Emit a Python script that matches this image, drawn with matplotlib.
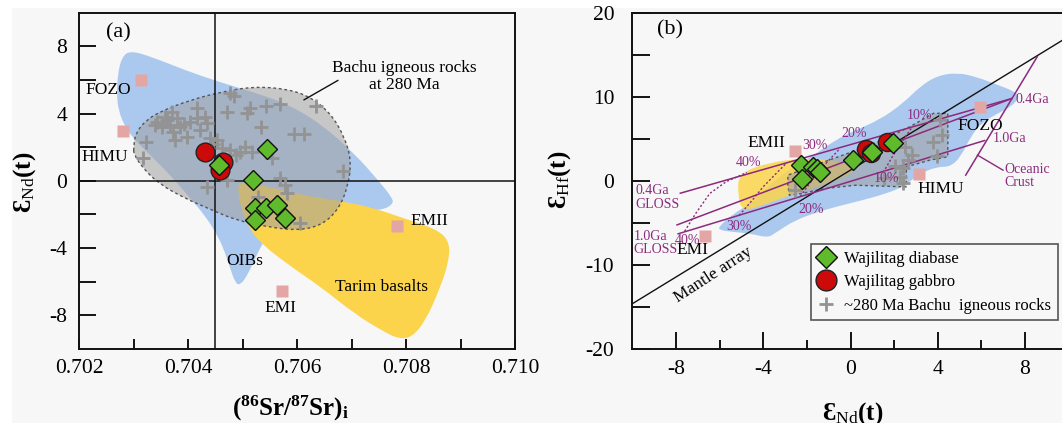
import numpy as np
import matplotlib
matplotlib.use("Agg")
import matplotlib.pyplot as plt
from matplotlib.path import Path
from matplotlib.patches import PathPatch, Polygon, Rectangle
from matplotlib.lines import Line2D

plt.rcParams['font.family'] = ['Liberation Serif', 'DejaVu Serif']
plt.rcParams['mathtext.fontset'] = 'custom'
plt.rcParams['mathtext.rm'] = 'Liberation Serif'
plt.rcParams['mathtext.bf'] = 'Liberation Serif:bold'
plt.rcParams['mathtext.it'] = 'Liberation Serif:italic'

# ---------------- data: panel (a) ----------------
oib_a_x = [0.702941, 0.703344, 0.703963, 0.704582, 0.705201, 0.705820, 0.706440, 0.707059, 0.707492,
           0.707740, 0.707771, 0.707554, 0.707059, 0.706440, 0.705820, 0.705511, 0.705263, 0.705108,
           0.704954, 0.704861, 0.704768, 0.704644, 0.704520, 0.704334, 0.704025, 0.703653, 0.703282,
           0.703034, 0.702848, 0.702724, 0.702693, 0.702712, 0.702786]
oib_a_y = [7.75, 7.36, 6.56, 5.87, 5.27, 4.58, 3.39, 1.61, 0.02, -0.97, -1.37, -1.76, -1.76, -1.76,
           -2.16, -2.95, -4.34, -5.53, -6.23, -6.03, -5.13, -3.95, -3.15, -2.16, -0.97, 0.42, 1.61,
           2.40, 3.19, 4.18, 5.17, 6.36, 7.36]
tarim_a_x = [0.704923, 0.705511, 0.706130, 0.706749, 0.707368, 0.707988, 0.708545, 0.708793, 0.708793,
             0.708607, 0.708359, 0.708111, 0.707864, 0.707554, 0.707059, 0.706440, 0.705820, 0.705387,
             0.705139, 0.704985, 0.704923]
tarim_a_y = [0.02, -0.38, -0.87, -1.17, -1.57, -2.26, -2.85, -3.55, -4.74, -6.52, -8.31, -9.30, -9.40,
             -8.90, -7.91, -6.32, -4.94, -3.85, -2.95, -1.76, -0.77]
bachu_field_a_x = [0.703003, 0.703034, 0.703220, 0.703529, 0.704025, 0.704582, 0.705201, 0.705820,
                   0.706254, 0.706625, 0.706873, 0.706997, 0.706935, 0.706749, 0.706440, 0.706006,
                   0.705511, 0.704892, 0.704396, 0.703963, 0.703467, 0.703158, 0.703003]
bachu_field_a_y = [2.00, 2.80, 3.59, 4.18, 4.78, 5.27, 5.61, 5.47, 4.98, 3.98, 2.60, 1.21, -0.38, -1.76,
                   -2.66, -2.95, -2.76, -2.36, -1.67, -1.07, -0.18, 0.81, 1.61]

bachu_a_x = [0.70477, 0.70485, 0.70417, 0.70471, 0.70514, 0.70508, 0.70544, 0.70568, 0.70635, 0.70534,
             0.70594, 0.70612, 0.70323, 0.70318, 0.70370, 0.70358, 0.70379, 0.70367, 0.70385, 0.70343,
             0.70352, 0.70373, 0.70376, 0.70398, 0.70404, 0.70416, 0.70431, 0.70434, 0.70422, 0.70440,
             0.70453, 0.70462, 0.70477, 0.70495, 0.70505, 0.70517, 0.70554, 0.70434, 0.70471, 0.70569,
             0.70578, 0.70581, 0.70529, 0.70606, 0.70684, 0.70340, 0.70362, 0.70392, 0.70446, 0.70488]
bachu_a_y = [5.25, 5.05, 4.35, 4.11, 4.31, 4.01, 4.47, 4.55, 4.47, 3.18, 2.79, 2.79, 2.33, 1.38, 4.11,
             3.82, 3.72, 3.32, 3.22, 3.52, 3.22, 2.92, 2.43, 2.63, 3.52, 3.72, 3.82, 3.42, 3.02, 2.53,
             2.43, 1.93, 1.83, 1.73, 1.99, 1.73, 1.34, -0.35, 0.05, 0.15, -0.25, -0.74, -0.94, -2.53,
             0.60, 3.35, 3.60, 3.40, 2.20, 1.55]

diabase_a_x = [0.70457, 0.70545, 0.70519, 0.70523, 0.70544, 0.70563, 0.70523, 0.70578]
diabase_a_y = [0.97, 1.90, 0.08, -1.61, -1.60, -1.41, -2.32, -2.20]
gabbro_a_x = [0.70431, 0.70465, 0.70459]
gabbro_a_y = [1.73, 1.10, 0.62]

end_names = ['FOZO', 'HIMU', 'EMII', 'EMI']
end_a_x = [0.70313, 0.70280, 0.70783, 0.70572]
end_a_y = [6.0, 2.94, -2.66, -6.53]

# ---------------- data: panel (b) ----------------
oib_b_x = [-6.06, -5.36, -4.58, -3.80, -2.87, -1.79, -0.70, 0.23, 1.32, 2.41, 3.18, 3.96, 4.89, 5.82,
           6.75, 7.53, 7.76, 7.38, 6.75, 5.98, 5.51, 5.05, 4.58, 3.96, 3.18, 2.41, 1.63, 0.54, -0.70,
           -1.48, -2.56, -3.49, -3.80, -4.58, -5.36, -5.98]
oib_b_y = [-5.49, -3.90, -2.70, -0.72, 1.27, 2.86, 4.85, 6.04, 7.24, 9.22, 11.21, 12.49, 12.88, 12.33,
           11.41, 10.62, 10.02, 8.83, 8.03, 6.84, 5.25, 2.86, 1.67, 1.67, 0.87, -0.72, -1.51, -2.31,
           -3.10, -3.70, -4.69, -6.28, -6.76, -6.28, -6.08, -5.88]
tarim_b_x = [-5.12, -3.80, -2.25, -1.01, -0.23, 0.31, -0.23, -1.32, -2.56, -3.80, -4.97, -5.17]
tarim_b_y = [0.87, 2.15, 2.66, 2.54, 2.07, 1.47, 0.48, -0.52, -1.51, -2.70, -3.70, -1.51]
bachu_field_b_x = [-2.87, -2.87, -1.63, 0.08, 1.48, 2.72, 3.80, 4.46, 4.46, 3.65, 2.56, 2.56, 1.63,
                   0.23, -1.16, -2.25, -2.80]
bachu_field_b_y = [-0.52, 0.68, 1.87, 3.46, 4.85, 6.44, 8.03, 8.03, 2.86, 2.47, 1.67, -0.72, -0.64,
                   -0.52, -0.91, -1.51, -1.71]

bachu_b_x = [4.11, 4.19, 3.76, 3.96, 2.48, 2.80, 2.64, 2.02, 2.41, 1.55, 2.25, 2.41, -2.56]
bachu_b_y = [7.24, 5.45, 4.65, 2.94, 4.06, 3.06, 2.47, 1.79, 1.47, 0.28, 0.48, -0.24, -1.03]

diabase_b_x = [-2.25, -2.20, -1.70, -1.55, -1.40, 0.12, 1.00, 1.95]
diabase_b_y = [1.90, 0.25, 1.60, 1.35, 1.00, 2.50, 3.45, 4.50]
gabbro_b_x = [0.70, 0.95, 1.65]
gabbro_b_y = [3.80, 3.35, 4.60]

end_b_x = [5.95, 3.15, -2.56, -6.65]
end_b_y = [8.83, 0.87, 3.58, -6.60]

mantle_slope, mantle_icpt = 1.59, 1.28

gloss04_line_x = [-7.80, 7.40]; gloss04_line_y = [-1.47, 9.80]
mid_line_x = [-7.95, 7.40];     mid_line_y = [-5.24, 9.80]
gloss10_line_x = [-7.90, 6.15]; gloss10_line_y = [-6.30, 4.80]
ocean_x = [5.28, 8.56];         ocean_y = [0.68, 14.77]

mix40_x = [-7.6, -7.1, -6.45, -5.7, -4.75]; mix40_y = [-6.0, -3.9, -1.5, -0.1, 1.0]
mix30_x = [-5.1, -4.5, -4.0, -3.4, -2.9];   mix30_y = [-4.1, -2.3, -0.7, 0.9, 2.2]
mix20_x = [-2.3, -1.9, -1.4, -0.9, -0.5];   mix20_y = [-1.85, -0.4, 1.3, 2.7, 3.8]
mix10_x = [1.5, 1.9, 2.3, 2.8];             mix10_y = [1.0, 2.8, 4.4, 6.3]

pct_labels = ['10%', '20%', '30%', '40%', '10%', '20%', '30%', '40%']
pct_x = [3.18, 0.16, -1.63, -4.66, 1.63, -1.82, -5.12, -7.45]
pct_y = [7.83, 5.65, 4.25, 2.19, 0.28, -3.42, -5.41, -7.08]

legend_labels = ['Wajilitag diabase', 'Wajilitag gabbro', '~280 Ma Bachu  igneous rocks']

# ---------------- styles ----------------
BG = '#f7f7f7'
BLUE = '#abc9ee'
YELLOW = '#fbd44c'
GRAYF = '#a0a0a0'
GREEN = '#5fba2c'
RED = '#cc0a0a'
PINK = '#e4a6a4'
CROSS = '#939393'
PURPLE = '#8c2a7e'


def smooth_path(xs, ys):
    pts = np.column_stack([xs, ys])
    n = len(pts)
    mids = (pts + np.roll(pts, -1, axis=0)) / 2.0
    verts = [mids[-1]]
    codes = [Path.MOVETO]
    for i in range(n):
        verts += [pts[i], mids[i]]
        codes += [Path.CURVE3, Path.CURVE3]
    verts.append(mids[-1])
    codes.append(Path.CLOSEPOLY)
    return Path(verts, codes)


fig = plt.figure(figsize=(10.62, 4.23), dpi=100)
fig.patch.set_facecolor('white')
fig.patches.append(Rectangle((12 / 1062, 0), 1, 1 - 8 / 423, transform=fig.transFigure,
                             facecolor=BG, edgecolor='none', zorder=-10))

W, H = 1062.0, 423.0
axA = fig.add_axes([79 / W, 1 - 349 / H, 436 / W, 336.3 / H])
axB = fig.add_axes([632.3 / W, 1 - 349 / H, 436.4 / W, 336.3 / H])
for ax in (axA, axB):
    ax.set_facecolor('none')
    for s in ax.spines.values():
        s.set_linewidth(1.4)
        s.set_color('#111111')

TICKFS = 15.5
ANN = 12.5

# ---------------- panel (a) ----------------
ax = axA
ax.set_xlim(0.702, 0.710)
ax.set_ylim(-10, 10)
ax.add_patch(PathPatch(smooth_path(oib_a_x, oib_a_y), facecolor=BLUE, edgecolor='none', zorder=1))
ax.add_patch(PathPatch(smooth_path(tarim_a_x, tarim_a_y), facecolor=YELLOW, edgecolor='none', zorder=2))
ax.add_patch(PathPatch(smooth_path(bachu_field_a_x, bachu_field_a_y), facecolor=GRAYF, alpha=0.55,
                       edgecolor='none', zorder=3))
ax.add_patch(PathPatch(smooth_path(bachu_field_a_x, bachu_field_a_y), facecolor='none',
                       edgecolor='#555555', linestyle=(0, (2, 2)), linewidth=1.0, zorder=3.5))
ax.axvline(0.7045, color='#111111', lw=1.1, zorder=4)
ax.axhline(0, color='#111111', lw=1.1, zorder=4)
ax.plot(end_a_x, end_a_y, 's', ms=9, color=PINK, mec='none', zorder=5)
ax.plot(bachu_a_x, bachu_a_y, '+', ms=10, mew=2.0, color=CROSS, zorder=6)
ax.plot(gabbro_a_x, gabbro_a_y, 'o', ms=13.5, color=RED, mec='#222222', mew=1.0, zorder=7)
ax.plot(diabase_a_x, diabase_a_y, 'D', ms=10, color=GREEN, mec='#111111', mew=1.0, zorder=8)

ax.text(0.702539, 5.41, 'FOZO', fontsize=ANN, ha='center', va='center', zorder=9)
ax.text(0.702464, 1.41, 'HIMU', fontsize=ANN, ha='center', va='center', zorder=9)
ax.text(0.70808, -2.36, 'EMII', fontsize=ANN, ha='left', va='center', zorder=9)
ax.text(0.705697, -7.55, 'EMI', fontsize=ANN, ha='center', va='center', zorder=9)
ax.text(0.705046, -4.74, 'OIBs', fontsize=ANN, ha='center', va='center', zorder=9)
ax.text(0.707554, -6.32, 'Tarim basalts', fontsize=ANN, ha='center', va='center', zorder=9)
ax.text(0.707975, 6.21, 'Bachu igneous rocks\nat 280 Ma', fontsize=ANN, ha='center', va='center',
        linespacing=1.05, zorder=9)
ax.plot([0.706749, 0.706130], [5.97, 4.82], color='#111111', lw=1.0, zorder=9)
ax.text(0.702724, 8.78, '(a)', fontsize=16, ha='center', va='center', zorder=9)

ax.set_xticks([0.702, 0.703, 0.704, 0.705, 0.706, 0.707, 0.708, 0.709, 0.710])
ax.set_xticklabels(['0.702', '', '0.704', '', '0.706', '', '0.708', '', '0.710'])
ax.set_yticks([-8, -6, -4, -2, 0, 2, 4, 6, 8])
ax.set_yticklabels(['-8', '', '-4', '', '0', '', '4', '', '8'])
ax.tick_params(axis='x', direction='in', length=7, width=1.3, pad=7, labelsize=TICKFS)
ax.tick_params(axis='y', direction='in', length=12, width=1.3, pad=8.5, labelsize=TICKFS)

fig.text(25 / W, 1 - 182 / H, 'Ɛ' + r'$_{\mathrm{Nd}}$' + '(t)', rotation=90, fontsize=18,
         fontweight='bold', ha='center', va='center')
fig.text(290 / W, 1 - 408 / H, r'$\mathbf{(^{86}Sr/^{87}Sr)_i}$', fontsize=18,
         ha='center', va='center')

# ---------------- panel (b) ----------------
ax = axB
ax.set_xlim(-10, 10)
ax.set_ylim(-20, 20)
ax.add_patch(PathPatch(smooth_path(oib_b_x, oib_b_y), facecolor=BLUE, edgecolor='none', zorder=1))
ax.add_patch(PathPatch(smooth_path(tarim_b_x, tarim_b_y), facecolor=YELLOW, alpha=0.85,
                       edgecolor='none', zorder=2))
ax.add_patch(Polygon(np.column_stack([bachu_field_b_x, bachu_field_b_y]), closed=True,
                     facecolor=GRAYF, alpha=0.55, edgecolor='none', zorder=3))
ax.add_patch(Polygon(np.column_stack([bachu_field_b_x, bachu_field_b_y]), closed=True,
                     facecolor='none', edgecolor='#555555', linestyle=(0, (2, 2)), lw=1.0, zorder=3.5))

mx = np.array([-10, 10])
ax.plot(mx, mantle_slope * mx + mantle_icpt, color='#111111', lw=1.0, zorder=4)
ax.text(-6.3, -11.2, 'Mantle array', rotation=33, fontsize=ANN, ha='center', va='center', zorder=9)

for lx, ly in [(gloss04_line_x, gloss04_line_y), (mid_line_x, mid_line_y),
               (gloss10_line_x, gloss10_line_y), (ocean_x, ocean_y)]:
    ax.plot(lx, ly, color=PURPLE, lw=1.1, zorder=4.5)
for cx, cy in [(mix40_x, mix40_y), (mix30_x, mix30_y), (mix20_x, mix20_y), (mix10_x, mix10_y)]:
    ax.plot(cx, cy, color=PURPLE, lw=1.0, ls=(0, (1.5, 1.5)), zorder=4.5)
for t, px, py in zip(pct_labels, pct_x, pct_y):
    ax.text(px, py, t, color=PURPLE, fontsize=10, ha='center', va='center', zorder=9)

ax.text(-9.85, -1.2, '0.4Ga', color=PURPLE, fontsize=10, ha='left', va='center', zorder=9)
ax.text(-9.85, -2.8, 'GLOSS', color=PURPLE, fontsize=10, ha='left', va='center', zorder=9)
ax.text(-9.95, -6.6, '1.0Ga', color=PURPLE, fontsize=10, ha='left', va='center', zorder=9)
ax.text(-9.95, -8.2, 'GLOSS', color=PURPLE, fontsize=10, ha='left', va='center', zorder=9)
ax.text(7.56, 9.7, '0.4Ga', color=PURPLE, fontsize=10, ha='left', va='center', zorder=9)
ax.text(6.52, 5.05, '1.0Ga', color=PURPLE, fontsize=10, ha='left', va='center', zorder=9)
ax.text(7.07, 1.35, 'Oceanic', color=PURPLE, fontsize=10, ha='left', va='center', zorder=9)
ax.text(7.07, -0.25, 'Crust', color=PURPLE, fontsize=10, ha='left', va='center', zorder=9)
ax.plot([5.82, 6.99], [3.06, 1.27], color=PURPLE, lw=1.0, zorder=4.5)

ax.plot(end_b_x, end_b_y, 's', ms=9, color=PINK, mec='none', zorder=5)
ax.plot(bachu_b_x, bachu_b_y, '+', ms=10.5, mew=2.0, color=CROSS, zorder=6)
ax.plot(gabbro_b_x, gabbro_b_y, 'o', ms=13, color=RED, mec='#222222', mew=1.0, zorder=7)
ax.plot(diabase_b_x, diabase_b_y, 'D', ms=10, color=GREEN, mec='#111111', mew=1.0, zorder=8)

ax.text(-3.84, 4.45, 'EMII', fontsize=ANN, ha='center', va='center', zorder=9)
ax.text(5.95, 6.52, 'FOZO', fontsize=ANN, ha='center', va='center', zorder=9)
ax.text(4.15, -0.99, 'HIMU', fontsize=ANN, ha='center', va='center', zorder=9)
ax.text(-7.25, -8.27, 'EMI', fontsize=ANN, ha='center', va='center', zorder=9)
ax.text(-8.28, 17.9, '(b)', fontsize=16, ha='center', va='center', zorder=9)

ax.set_xticks([-6, -2, 2, 6], minor=True)
ax.set_xticks([-8, -4, 0, 4, 8])
ax.set_xticklabels(['-8', '-4', '0', '4', '8'])
ax.set_yticks([-20, -15, -10, -5, 0, 5, 10, 15, 20])
ax.set_yticklabels(['-20', '', '-10', '', '0', '', '10', '', '20'])
ax.tick_params(axis='x', which='major', direction='in', length=12, width=1.3, pad=8, labelsize=TICKFS)
ax.tick_params(axis='x', which='minor', direction='in', length=6.5, width=1.3)
ax.tick_params(axis='y', direction='in', length=13, width=1.3, pad=13, labelsize=TICKFS)

handles = [Line2D([], [], ls='none', marker='D', ms=11, color=GREEN, mec='#111111', mew=1.0),
           Line2D([], [], ls='none', marker='o', ms=15, color=RED, mec='#222222', mew=1.0),
           Line2D([], [], ls='none', marker='+', ms=10, mew=2.0, color=CROSS)]
leg = ax.legend(handles, legend_labels, loc='upper left', bbox_to_anchor=(0.4095, 0.312),
                borderaxespad=0, fontsize=12, frameon=True, fancybox=False, framealpha=1,
                edgecolor='#555555', facecolor=BG, handlelength=1.0, handletextpad=0.6,
                labelspacing=0.45, borderpad=0.4)
leg.get_frame().set_linewidth(1.2)
leg.set_zorder(10)

fig.text(560 / W, 1 - 180 / H, 'Ɛ' + r'$_{\mathrm{Hf}}$' + '(t)', rotation=90, fontsize=18,
         fontweight='bold', ha='center', va='center')
fig.text(853 / W, 1 - 414 / H, 'Ɛ' + r'$_{\mathrm{Nd}}$' + '(t)', fontsize=18,
         fontweight='bold', ha='center', va='center')

fig.savefig('out.png', dpi=100, facecolor=fig.get_facecolor())
